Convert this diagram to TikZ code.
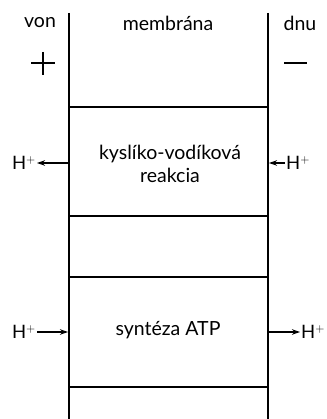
\documentclass[tikz,border=0pt]{standalone}
\usepackage{fontspec}
\setmainfont{Lato}
\usetikzlibrary{arrows.meta}
\begin{document}
\begin{tikzpicture}[x=1pt,y=-1pt,
  wall/.style={line width=1.4pt},
  sign/.style={line width=1.1pt},
  lbl/.style={font=\fontsize{19.5}{23}\selectfont, inner sep=0pt},
  ion/.style={font=\fontsize{18.5}{22}\selectfont, inner sep=1pt},
  flow/.style={line width=1.1pt, -{Stealth[length=8pt,width=5.5pt]}}]
  \useasboundingbox (0,0) rectangle (326,419);
  % membrane walls
  \coordinate (lt) at (69,13);
  \coordinate (lb) at (69,419);
  \coordinate (rt) at (268,13);
  \coordinate (rb) at (268,419);
  \draw[wall] (lt) -- (lb);
  \draw[wall] (rt) -- (rb);
  % compartment boundaries
  \foreach \yy in {107,216,277,387}
    \draw[wall] (69,\yy) -- (268,\yy);
  % headings
  \node[lbl] (von) at (40,23) {von};
  \node[lbl] (mem) at (168,23) {membrána};
  \node[lbl] (dnu) at (300,23) {dnu};
  % charge signs
  \draw[sign] (31,63) -- (55,63);
  \draw[sign] (43,52) -- (43,75);
  \draw[sign] (284,63) -- (307,63);
  % reaction labels
  \node[lbl, align=center] (redox) at (170,164) {kyslíko-vodíková\\[0pt]reakcia};
  \node[lbl] (atp) at (168,330) {syntéza ATP};
  % proton flows
  \node[ion, anchor=east] (h1) at (37,163) {H$^{+}$};
  \coordinate (w1) at (69,163);
  \draw[flow] (w1) -- (h1.east);
  \node[ion, anchor=west] (h2) at (285,163) {H$^{+}$};
  \coordinate (w2) at (269,163);
  \draw[flow] (h2.west) -- (w2);
  \node[ion, anchor=east] (h3) at (37,332) {H$^{+}$};
  \coordinate (w3) at (68,332);
  \draw[flow] (h3.east) -- (w3);
  \node[ion, anchor=west] (h4) at (300,332) {H$^{+}$};
  \coordinate (w4) at (269,332);
  \draw[flow] (w4) -- (h4.west);
\end{tikzpicture}
\end{document}
